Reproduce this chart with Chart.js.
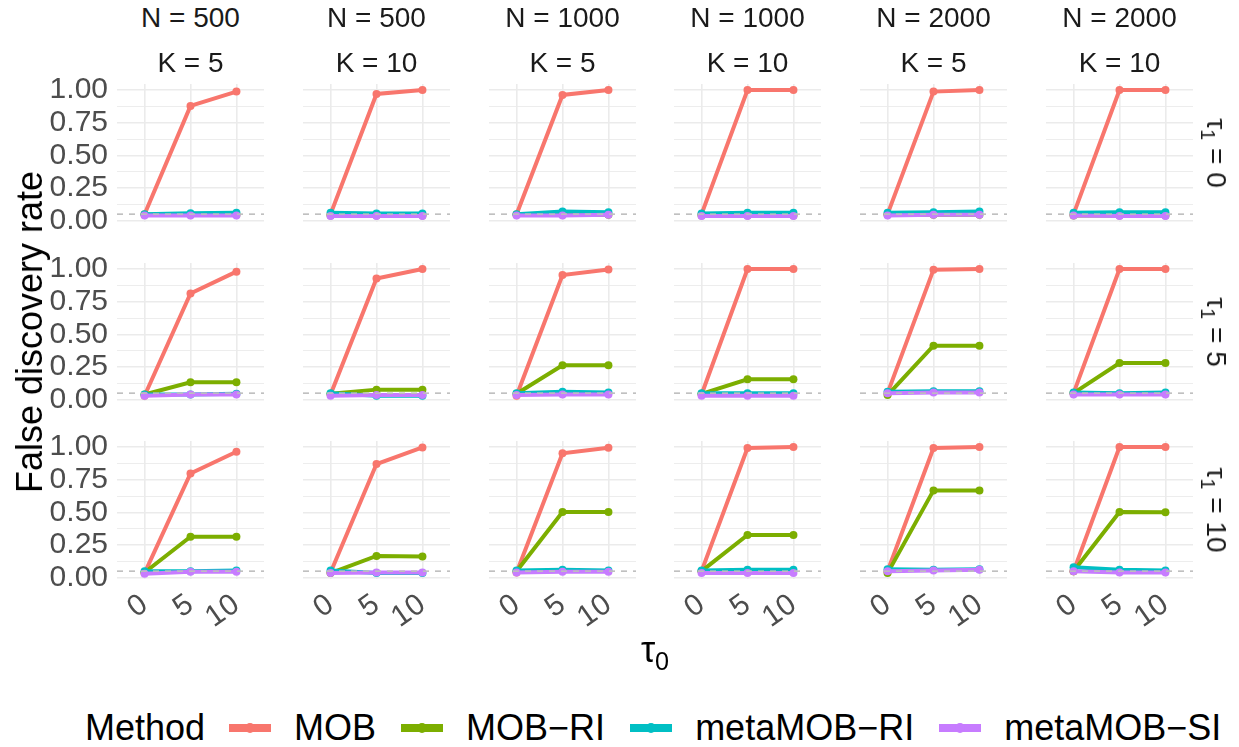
<!DOCTYPE html>
<html>
<head>
<meta charset="utf-8">
<script src="https://cdn.jsdelivr.net/npm/chart.js@4.4.1/dist/chart.umd.min.js"></script>
<style>
  body { margin: 0; background: #fff; width: 1239px; height: 747px; position: relative; overflow: hidden;
         font-family: "Liberation Sans", Arial, sans-serif; }
  canvas { position: absolute; }
  .t { position: absolute; white-space: nowrap; line-height: 1; transform: translate(-50%, -50%); }
  .t sub { font-size: 0.7em; vertical-align: -0.3em; line-height: 0; }
  #legend { position: absolute; left: 85px; top: 728px; transform: translateY(-50%); display: flex; align-items: center;
            font-size: 36px; color: #000; line-height: 1; }
  .key { position: relative; display: block; flex: none; width: 42px; height: 8px; margin-right: 23px; }
  .key i { position: absolute; left: 16px; top: -1px; width: 10px; height: 10px; border-radius: 50%; }
</style>
</head>
<body>
<script>
// facets
const sampleSizes = [500, 500, 1000, 1000, 2000, 2000];
const clusterCounts = [5, 10, 5, 10, 5, 10];
const tau1Values = [0, 5, 10];
const tau0Labels = ['0', '5', '10'];

const methods = ['MOB', 'MOB\u2212RI', 'metaMOB\u2212RI', 'metaMOB\u2212SI'];
const colors = ['#F8766D', '#7CAE00', '#00BFC4', '#C77CFF'];

const yMajor = [0, 0.25, 0.5, 0.75, 1];
const yMinor = [0.125, 0.375, 0.625, 0.875];
const fdrLevel = 0.05;

// false discovery rate, [tau1 row][N/K panel][tau0 = 0, 5, 10]
const fdrMOB = [
  [[0.05, 0.878, 0.988], [0.05, 0.97, 1.0], [0.05, 0.962, 1.0], [0.05, 1.0, 1.0], [0.05, 0.988, 1.0], [0.05, 1.0, 1.0]],
  [[0.03, 0.813, 0.98], [0.04, 0.928, 1.0], [0.03, 0.954, 0.997], [0.04, 1.0, 1.0], [0.05, 0.995, 1.0], [0.05, 1.0, 1.0]],
  [[0.035, 0.798, 0.964], [0.04, 0.87, 0.997], [0.04, 0.952, 0.995], [0.05, 0.992, 1.0], [0.05, 0.992, 1.0], [0.05, 1.0, 1.0]]
];
const fdrMOBRI = [
  [[0.045, 0.045, 0.045], [0.04, 0.04, 0.04], [0.045, 0.045, 0.045], [0.04, 0.04, 0.04], [0.045, 0.045, 0.045], [0.04, 0.04, 0.04]],
  [[0.04, 0.133, 0.133], [0.045, 0.077, 0.077], [0.045, 0.264, 0.264], [0.045, 0.156, 0.156], [0.035, 0.413, 0.413], [0.05, 0.28, 0.28]],
  [[0.04, 0.314, 0.314], [0.035, 0.166, 0.163], [0.05, 0.503, 0.503], [0.05, 0.327, 0.327], [0.035, 0.668, 0.668], [0.05, 0.503, 0.5]]
];
const fdrMetaRI = [
  [[0.05, 0.057, 0.06], [0.06, 0.055, 0.055], [0.05, 0.07, 0.065], [0.055, 0.06, 0.06], [0.06, 0.065, 0.07], [0.06, 0.065, 0.065]],
  [[0.04, 0.04, 0.045], [0.05, 0.03, 0.03], [0.05, 0.06, 0.055], [0.05, 0.05, 0.05], [0.06, 0.065, 0.065], [0.055, 0.05, 0.055]],
  [[0.05, 0.05, 0.055], [0.055, 0.035, 0.035], [0.055, 0.06, 0.055], [0.055, 0.06, 0.06], [0.065, 0.06, 0.065], [0.08, 0.06, 0.055]]
];
const fdrMetaSI = [
  [[0.04, 0.04, 0.04], [0.035, 0.035, 0.035], [0.04, 0.04, 0.045], [0.035, 0.035, 0.035], [0.04, 0.045, 0.045], [0.04, 0.035, 0.035]],
  [[0.03, 0.04, 0.04], [0.03, 0.035, 0.035], [0.035, 0.04, 0.04], [0.03, 0.03, 0.03], [0.05, 0.055, 0.055], [0.04, 0.04, 0.04]],
  [[0.03, 0.045, 0.045], [0.035, 0.04, 0.04], [0.04, 0.045, 0.045], [0.035, 0.035, 0.035], [0.05, 0.055, 0.06], [0.05, 0.04, 0.04]]
];
const allSeries = [fdrMOB, fdrMOBRI, fdrMetaRI, fdrMetaSI];

// panel layout
const PL0 = 117, PDX = 185.75, PT0 = 84, PDY = 178.5, PW = 147, PH = 138;
const ML = 80, MT = 40, MR = 8, MB = 60;
const FONT = '"Liberation Sans", Arial, sans-serif';
Chart.defaults.font.family = FONT;

// dashed reference line at the nominal level
const refLine = {
  id: 'refLine',
  afterDatasetsDraw(chart) {
    const { ctx, chartArea: a, scales: { y } } = chart;
    const py = y.getPixelForValue(fdrLevel);
    ctx.save();
    ctx.strokeStyle = '#BEBEBE';
    ctx.lineWidth = 1.6;
    ctx.setLineDash([6, 6]);
    ctx.beginPath();
    ctx.moveTo(a.left, py);
    ctx.lineTo(a.right, py);
    ctx.stroke();
    ctx.restore();
  }
};

function addText(html, x, y, size, color, rot) {
  const d = document.createElement('div');
  d.className = 't';
  d.innerHTML = html;
  d.style.left = x + 'px';
  d.style.top = y + 'px';
  d.style.fontSize = size + 'px';
  d.style.color = color;
  if (rot) d.style.transform = 'translate(-50%, -50%) rotate(' + rot + 'deg)';
  document.body.appendChild(d);
}

for (let r = 0; r < tau1Values.length; r++) {
  for (let c = 0; c < sampleSizes.length; c++) {
    const left = Math.round(PL0 + c * PDX), top = Math.round(PT0 + r * PDY);
    const cv = document.createElement('canvas');
    cv.width = ML + PW + MR;
    cv.height = MT + PH + MB;
    cv.style.left = (left - ML) + 'px';
    cv.style.top = (top - MT) + 'px';
    document.body.appendChild(cv);

    new Chart(cv, {
      type: 'line',
      data: {
        datasets: methods.map((m, k) => ({
          label: m,
          data: allSeries[k][r][c].map((v, i) => ({ x: i, y: v })),
          borderColor: colors[k],
          backgroundColor: colors[k],
          borderWidth: 4,
          pointRadius: 4,
          pointBorderWidth: 0,
          order: methods.length - k
        }))
      },
      options: {
        responsive: false,
        animation: false,
        events: [],
        layout: { padding: { left: 0, top: MT, right: MR, bottom: 0 } },
        plugins: { legend: { display: false }, tooltip: { enabled: false } },
        scales: {
          x: {
            type: 'linear', min: -0.6, max: 2.6,
            afterBuildTicks: s => { s.ticks = tau0Labels.map((_, i) => ({ value: i })); },
            afterFit: s => { s.height = MB; },
            border: { display: false },
            grid: { color: '#EBEBEB', lineWidth: 1.6, drawTicks: false },
            ticks: {
              display: r === tau1Values.length - 1, autoSkip: false,
              minRotation: 35, maxRotation: 35, padding: 8,
              color: '#4D4D4D', font: { size: 30 },
              callback: v => tau0Labels[v]
            }
          },
          y: {
            min: -0.01, max: 1.046,
            afterBuildTicks: s => {
              s.ticks = yMajor.concat(yMinor).sort((a, b) => a - b).map(v => ({ value: v }));
            },
            afterFit: s => { s.width = ML; },
            border: { display: false },
            grid: {
              color: '#EBEBEB', drawTicks: false,
              lineWidth: ctx => (ctx.tick && yMajor.includes(ctx.tick.value)) ? 1.6 : 0.9
            },
            ticks: {
              display: c === 0, autoSkip: false, padding: 9,
              color: '#4D4D4D', font: { size: 30 },
              callback: v => yMajor.includes(v) ? v.toFixed(2) : ''
            }
          }
        }
      },
      plugins: [refLine]
    });

    if (r === 0) {
      addText('N = ' + sampleSizes[c], left + PW / 2, 18, 28, '#1A1A1A');
      addText('K = ' + clusterCounts[c], left + PW / 2, 63, 28, '#1A1A1A');
    }
    if (c === sampleSizes.length - 1) {
      addText('\u03C4<sub>1</sub> = ' + tau1Values[r], 1216, top + PH / 2, 28, '#1A1A1A', 90);
    }
  }
}

addText('False discovery rate', 30, Math.round(PT0 + (PDY * 2 + PH) / 2), 36, '#000', -90);
addText('\u03C4<sub>0</sub>', 655, 650, 36, '#000');

// legend
const lg = document.createElement('div');
lg.id = 'legend';
let html = '<span style="margin-right:24px">Method</span>';
methods.forEach((m, k) => {
  html += '<span class="key" style="background:' + colors[k] + '"><i style="background:' + colors[k] + '"></i></span>' +
          '<span style="margin-right:25px">' + m + '</span>';
});
lg.innerHTML = html;
document.body.appendChild(lg);
</script>
</body>
</html>
